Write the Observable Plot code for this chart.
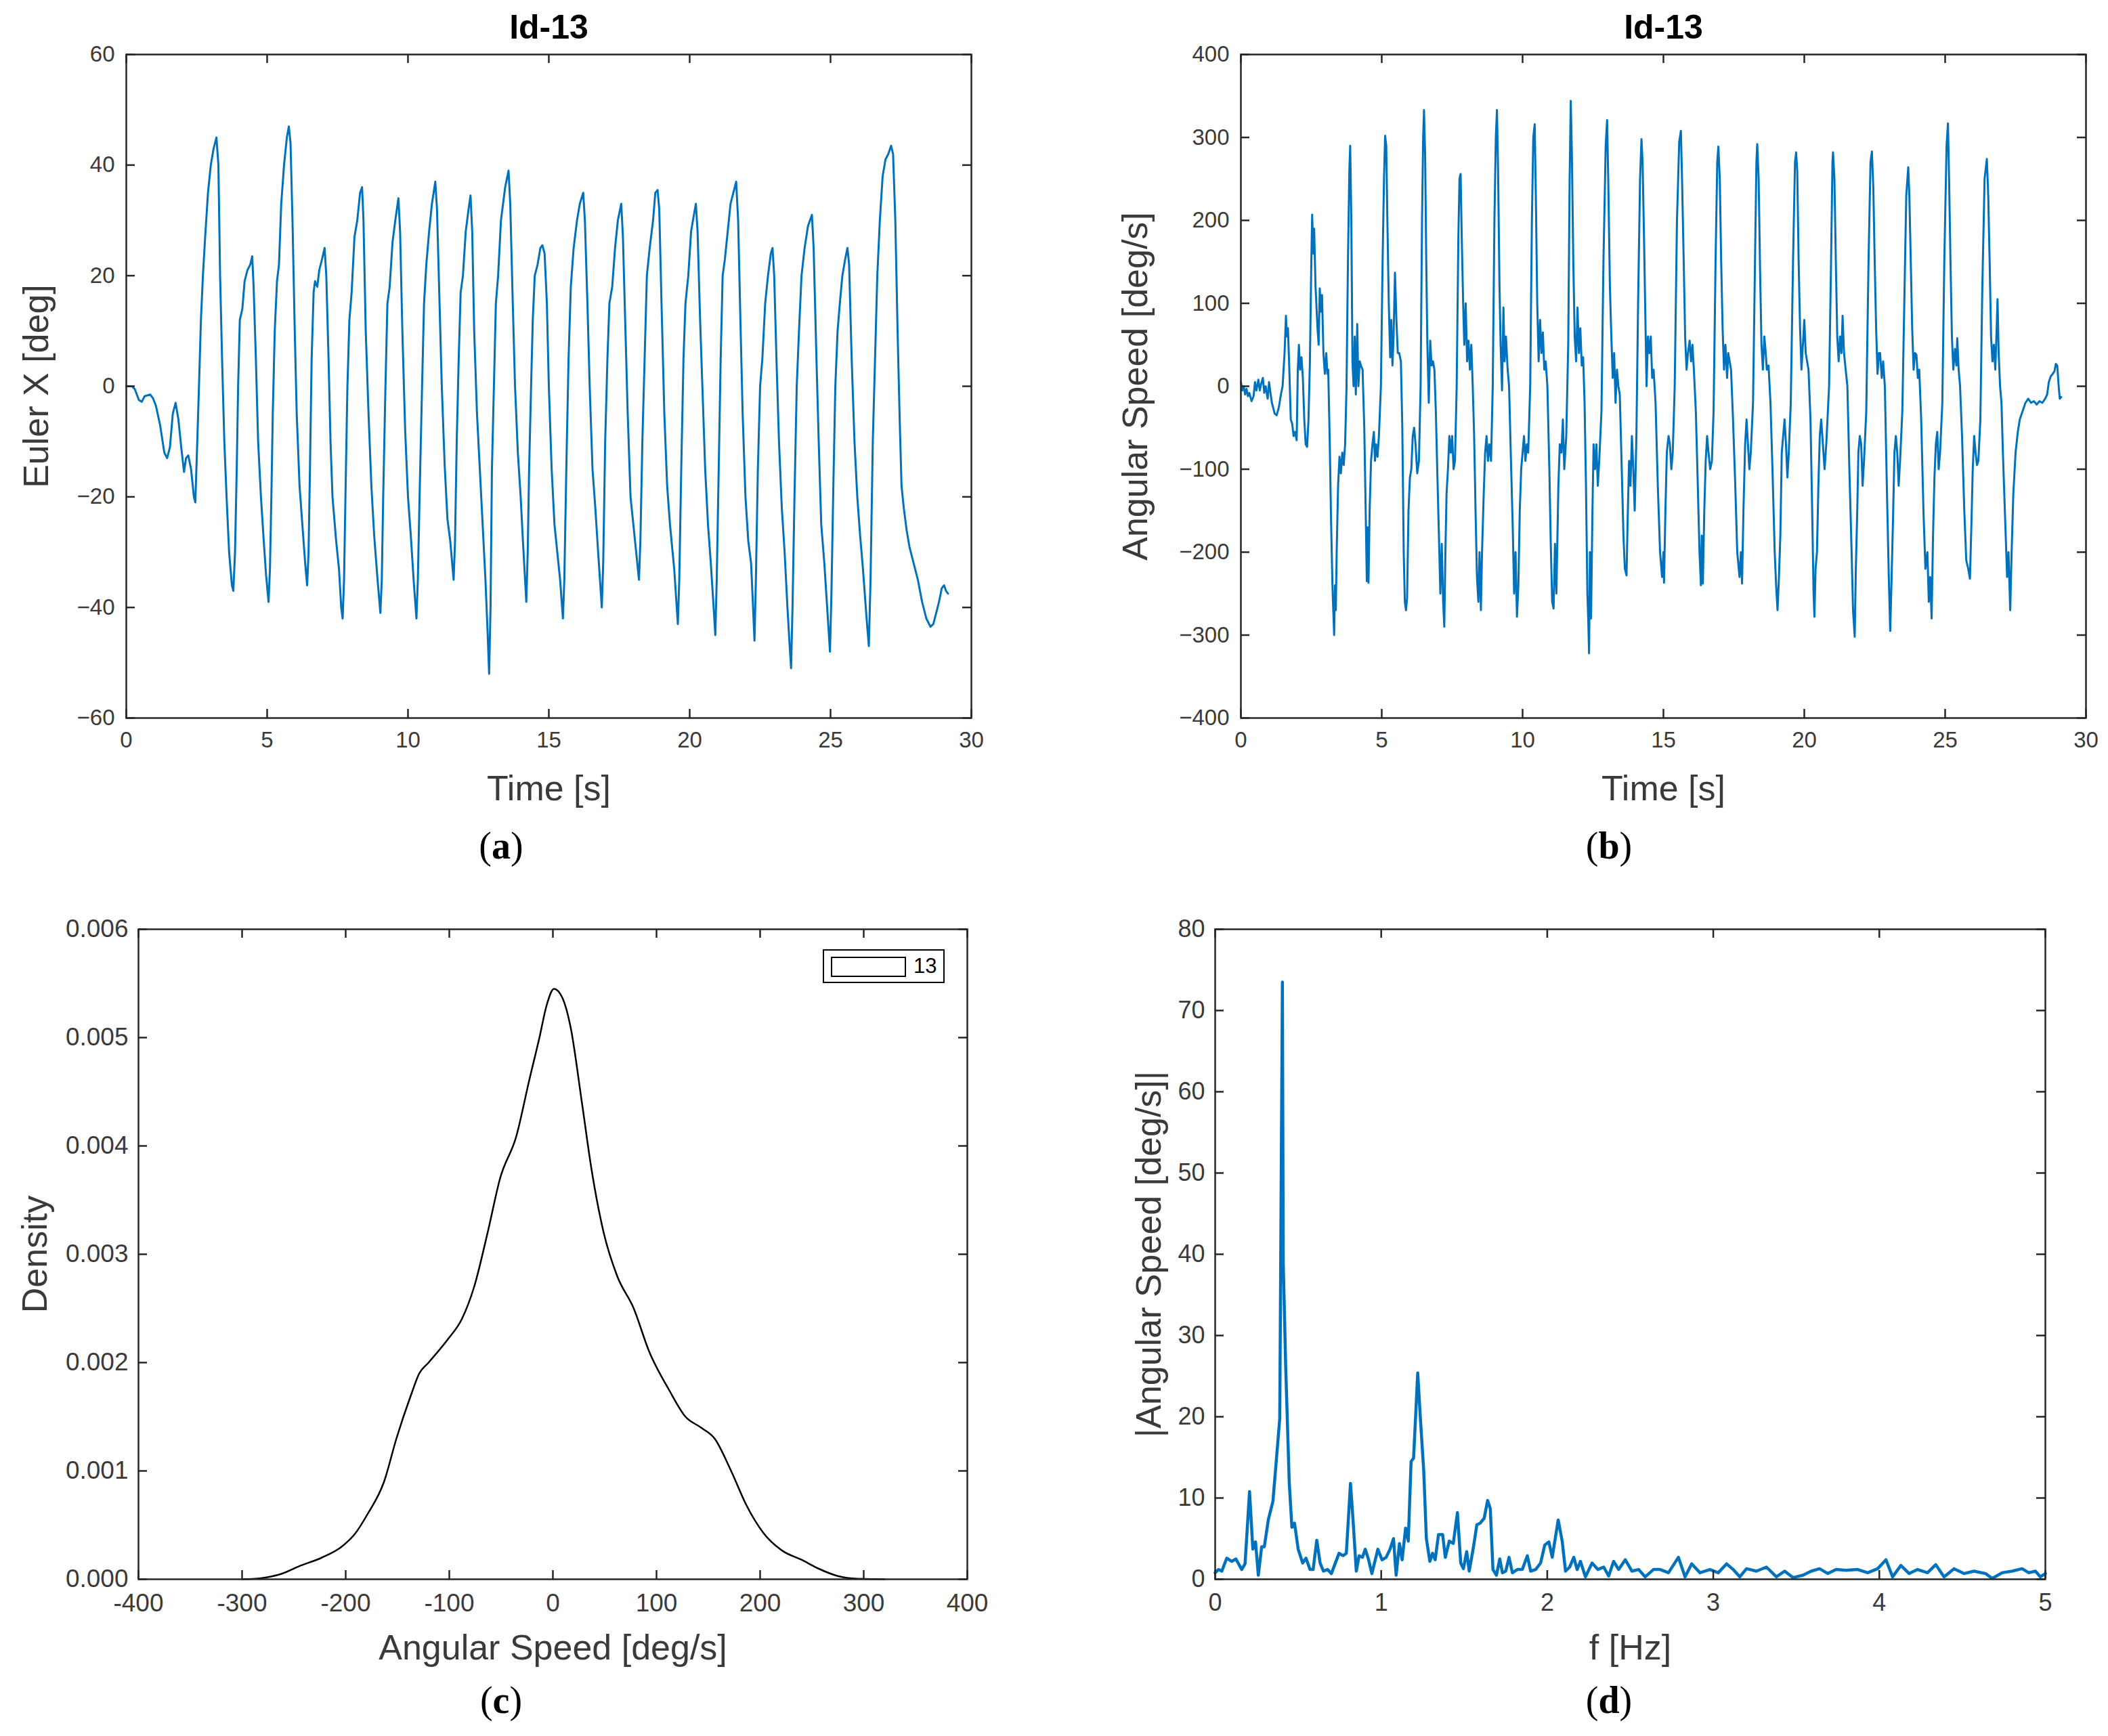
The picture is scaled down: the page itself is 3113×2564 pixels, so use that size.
<!DOCTYPE html>
<html><head><meta charset="utf-8">
<script src="https://cdn.jsdelivr.net/npm/d3@7"></script>
<script src="https://cdn.jsdelivr.net/npm/@observablehq/plot@0.6"></script>
<style>
html,body{margin:0;padding:0;background:#fff;}
#page{position:relative;width:3113px;height:2564px;background:#fff;font-family:"Liberation Sans",Arial,sans-serif;}
.panel{position:absolute;}
.cap{position:absolute;font-family:"Liberation Serif","Times New Roman",serif;font-size:56px;color:#000;transform:translate(-50%,-50%);white-space:nowrap;}
.leg{position:absolute;left:1215px;top:1402px;width:180px;height:50px;border:2.5px solid #000;background:#fff;box-sizing:border-box;}
.legsw{position:absolute;left:1227px;top:1413px;width:111px;height:30px;border:2px solid #000;box-sizing:border-box;}
.legtx{position:absolute;left:1349px;top:1409px;font-size:31px;color:#000;font-family:"Liberation Sans",Arial,sans-serif;}
</style></head><body><div id="page"></div>
<script>
// ---------- Panel (a): Euler X [deg] vs time ----------
const timeA = [0,0.2,0.3,0.45,0.55,0.65,0.85,0.95,1.05,1.2,1.35,1.45,1.55,1.65,1.75,1.85,1.95,2.05,2.12,2.2,2.3,2.4,2.45,2.52,2.58,2.65,2.72,2.8,2.9,3.0,3.1,3.2,3.27,3.33,3.4,3.48,3.56,3.65,3.75,3.8,3.86,3.92,3.97,4.03,4.12,4.2,4.3,4.4,4.47,4.52,4.6,4.68,4.78,4.88,4.96,5.05,5.1,5.15,5.2,5.27,5.35,5.42,5.5,5.6,5.7,5.77,5.83,5.9,5.98,6.05,6.15,6.25,6.35,6.42,6.47,6.52,6.58,6.65,6.7,6.78,6.85,6.95,7.04,7.1,7.18,7.25,7.32,7.45,7.55,7.63,7.68,7.73,7.78,7.85,7.92,8.0,8.1,8.2,8.3,8.37,8.42,8.5,8.6,8.7,8.8,8.92,9.02,9.07,9.12,9.2,9.27,9.35,9.45,9.55,9.66,9.72,9.8,9.9,10.0,10.1,10.2,10.3,10.35,10.42,10.5,10.57,10.65,10.75,10.85,10.97,11.03,11.12,11.2,11.3,11.4,11.5,11.62,11.67,11.73,11.8,11.87,11.95,12.05,12.15,12.22,12.28,12.35,12.45,12.55,12.65,12.75,12.83,12.88,12.93,12.98,13.05,13.12,13.2,13.3,13.45,13.57,13.63,13.72,13.8,13.9,14.0,14.08,14.2,14.25,14.3,14.37,14.43,14.5,14.6,14.7,14.77,14.85,14.93,15.0,15.1,15.2,15.3,15.4,15.5,15.55,15.62,15.7,15.78,15.88,16.0,16.1,16.22,16.28,16.37,16.45,16.55,16.65,16.75,16.88,16.93,17.0,17.08,17.15,17.25,17.35,17.45,17.57,17.63,17.72,17.8,17.9,18.0,18.1,18.2,18.25,18.32,18.4,18.48,18.58,18.7,18.78,18.86,18.92,19.0,19.1,19.2,19.3,19.45,19.58,19.63,19.7,19.78,19.85,19.95,20.05,20.15,20.22,20.28,20.37,20.45,20.55,20.65,20.75,20.85,20.91,20.96,21.03,21.1,21.17,21.25,21.35,21.45,21.55,21.65,21.72,21.8,21.88,21.98,22.08,22.18,22.25,22.3,22.35,22.42,22.5,22.58,22.68,22.78,22.88,22.94,23.0,23.08,23.17,23.27,23.37,23.47,23.55,23.6,23.65,23.72,23.8,23.88,23.97,24.08,24.2,24.34,24.4,24.5,24.58,24.67,24.78,24.88,24.98,25.03,25.1,25.17,25.25,25.33,25.42,25.52,25.6,25.66,25.75,25.85,25.95,26.05,26.15,26.28,26.36,26.42,26.5,26.58,26.66,26.75,26.85,26.95,27.05,27.15,27.22,27.3,27.38,27.45,27.52,27.6,27.7,27.8,27.95,28.1,28.25,28.4,28.55,28.65,28.75,28.85,28.95,29.03,29.1,29.17];
const eulerX = [0,0,-0.5,-2.5,-2.8,-1.8,-1.5,-2.2,-3.5,-7,-12,-13,-11,-5,-3,-6,-11,-15.5,-13,-12.5,-15,-20,-21,-10,0,12,20,27,35,40,43,45,40,20,5,-10,-20,-30,-36,-37,-30,-15,0,12,14,19,21,22,23.5,18,5,-10,-20,-28,-34,-39,-33,-20,-5,10,19,22,33,40,45,47,44,30,10,-5,-18,-25,-32,-36,-30,-15,5,17,19,18,21,23,25,20,5,-10,-20,-28,-33,-40,-42,-35,-20,0,12,17,27,30,35,36,30,10,-5,-18,-27,-35,-41,-35,-20,0,15,18,26,30,34,28,10,-8,-20,-27,-35,-42,-35,-18,0,15,22,28,33,37,32,15,0,-14,-24,-28,-35,-28,-10,5,17,20,28,32,34.5,28,10,-5,-15,-25,-35,-45,-52,-40,-15,0,15,20,30,36,39,33,15,0,-12,-20,-28,-39,-30,-15,0,12,20,22,25,25.5,24,15,0,-15,-25,-30,-35,-42,-35,-15,5,18,25,30,33,35,30,15,0,-15,-22,-30,-40,-32,-10,5,15,18,25,30,33,27,10,-5,-20,-25,-30,-35,-28,-10,5,20,25,30,35,35.5,32,15,-5,-18,-25,-33,-43,-35,-15,5,15,20,28,31,33,28,12,0,-15,-25,-32,-40,-45,-35,-15,5,20,23,28,33,35,37,30,12,-5,-20,-28,-32,-40,-46,-35,-15,0,5,15,20,24,25,20,5,-10,-22,-30,-40,-47,-51,-40,-20,0,10,20,25,29,31,25,5,-10,-25,-32,-40,-48,-38,-18,0,10,15,20,23,25,22,5,-10,-20,-27,-33,-42,-47,-35,-10,5,20,30,38,41,42,43.5,42,30,10,-5,-18,-22,-26,-29,-32,-35,-39,-42,-43.5,-43,-41,-39,-36.5,-36,-37,-37.5];

// ---------- Panel (b): angular speed [deg/s] vs time ----------
const timeB = [0,0.05,0.1,0.15,0.2,0.25,0.3,0.38,0.45,0.5,0.55,0.62,0.67,0.72,0.78,0.83,0.88,0.95,1.0,1.05,1.1,1.2,1.27,1.35,1.42,1.48,1.55,1.6,1.63,1.67,1.72,1.77,1.82,1.87,1.92,1.98,2.02,2.06,2.1,2.15,2.2,2.25,2.3,2.35,2.4,2.45,2.5,2.53,2.57,2.6,2.65,2.72,2.76,2.8,2.84,2.88,2.93,2.98,3.03,3.07,3.1,3.15,3.2,3.25,3.28,3.31,3.34,3.37,3.4,3.45,3.5,3.55,3.6,3.65,3.7,3.75,3.8,3.85,3.88,3.92,3.96,4.0,4.04,4.08,4.13,4.17,4.22,4.26,4.32,4.38,4.43,4.47,4.5,4.53,4.57,4.62,4.67,4.72,4.76,4.8,4.85,4.9,4.97,5.03,5.08,5.12,5.16,5.2,5.25,5.3,5.34,5.38,5.42,5.47,5.52,5.57,5.62,5.68,5.73,5.78,5.82,5.86,5.9,5.95,6.0,6.05,6.1,6.15,6.2,6.26,6.32,6.38,6.43,6.47,6.5,6.54,6.58,6.62,6.67,6.72,6.77,6.82,6.87,6.92,6.97,7.03,7.08,7.13,7.18,7.22,7.26,7.3,7.35,7.4,7.45,7.5,7.55,7.6,7.66,7.72,7.76,7.8,7.84,7.89,7.93,7.98,8.03,8.08,8.13,8.18,8.23,8.28,8.33,8.38,8.43,8.47,8.52,8.56,8.62,8.67,8.72,8.77,8.82,8.88,8.94,9.0,9.05,9.09,9.13,9.18,9.22,9.27,9.32,9.36,9.41,9.47,9.52,9.58,9.65,9.7,9.75,9.8,9.85,9.9,9.95,10.0,10.05,10.1,10.15,10.2,10.27,10.33,10.38,10.43,10.47,10.52,10.57,10.62,10.67,10.72,10.77,10.82,10.88,10.95,11.0,11.05,11.1,11.15,11.2,11.27,11.32,11.38,11.43,11.48,11.55,11.62,11.67,11.71,11.75,11.8,11.85,11.9,11.95,12.0,12.05,12.1,12.15,12.2,12.25,12.3,12.33,12.36,12.39,12.43,12.48,12.52,12.57,12.62,12.67,12.72,12.8,12.87,12.95,13.0,13.04,13.1,13.15,13.2,13.25,13.3,13.35,13.4,13.45,13.52,13.58,13.63,13.69,13.73,13.78,13.83,13.88,13.93,13.98,14.04,14.1,14.17,14.22,14.26,14.31,14.36,14.4,14.45,14.5,14.55,14.6,14.65,14.72,14.8,14.88,14.95,15.0,15.02,15.07,15.12,15.18,15.23,15.28,15.33,15.4,15.48,15.56,15.62,15.66,15.72,15.77,15.82,15.87,15.93,15.98,16.03,16.08,16.15,16.22,16.28,16.33,16.36,16.4,16.45,16.5,16.55,16.6,16.66,16.72,16.78,16.85,16.91,16.95,17.0,17.05,17.1,17.15,17.2,17.26,17.3,17.35,17.4,17.47,17.55,17.62,17.7,17.75,17.79,17.84,17.9,17.95,18.0,18.05,18.1,18.18,18.25,18.3,18.33,18.38,18.43,18.48,18.53,18.58,18.62,18.67,18.73,18.8,18.87,18.95,19.0,19.05,19.1,19.15,19.2,19.25,19.3,19.35,19.4,19.45,19.52,19.6,19.67,19.71,19.75,19.8,19.85,19.9,19.95,20.0,20.05,20.1,20.15,20.22,20.28,20.33,20.36,20.4,20.45,20.5,20.55,20.6,20.66,20.72,20.78,20.88,20.95,21.0,21.02,21.07,21.12,21.17,21.22,21.27,21.32,21.36,21.41,21.47,21.53,21.6,21.68,21.73,21.79,21.83,21.88,21.92,21.97,22.02,22.07,22.12,22.2,22.28,22.35,22.4,22.45,22.5,22.55,22.6,22.65,22.69,22.75,22.8,22.86,22.93,23.0,23.05,23.1,23.15,23.2,23.25,23.3,23.35,23.4,23.48,23.55,23.62,23.69,23.73,23.78,23.83,23.88,23.93,23.98,24.03,24.08,24.15,24.23,24.3,24.37,24.42,24.47,24.52,24.57,24.62,24.67,24.72,24.77,24.82,24.9,24.97,25.05,25.1,25.14,25.19,25.24,25.29,25.35,25.4,25.43,25.48,25.53,25.6,25.68,25.75,25.82,25.88,25.93,25.98,26.03,26.08,26.13,26.18,26.25,26.32,26.4,26.48,26.53,26.58,26.63,26.68,26.73,26.78,26.82,26.86,26.9,26.95,27.0,27.05,27.12,27.2,27.25,27.31,27.36,27.42,27.5,27.58,27.65,27.75,27.85,27.95,28.05,28.15,28.25,28.35,28.45,28.55,28.62,28.68,28.75,28.82,28.88,28.93,28.98,29.03,29.07,29.12];
const angSpeed = [5,-5,0,-10,-3,-12,-8,-18,-12,5,-5,8,-5,3,10,-8,0,-15,5,-8,-20,-33,-35,-25,-10,0,40,85,60,70,20,-40,-45,-60,-55,-65,20,50,20,35,10,-40,-70,-73,-40,30,150,207,160,190,120,70,50,118,90,110,40,15,40,15,20,-60,-160,-240,-270,-300,-240,-270,-200,-120,-85,-105,-80,-95,-70,0,150,260,290,200,30,0,60,-10,75,0,30,25,20,-50,-150,-235,-170,-237,-150,-90,-70,-55,-90,-70,-85,-60,0,150,250,302,290,200,100,35,80,25,60,137,80,40,40,30,-50,-200,-260,-270,-255,-150,-110,-100,-60,-50,-70,-105,-90,0,200,300,333,280,150,50,-20,55,25,30,20,-30,-100,-180,-250,-190,-260,-290,-200,-130,-100,-60,-80,-60,-100,-90,0,180,250,256,180,100,50,100,30,55,20,50,0,-60,-150,-230,-260,-200,-270,-200,-130,-80,-60,-90,-70,-90,0,200,300,333,260,120,50,-5,95,30,60,20,0,-80,-170,-250,-200,-278,-240,-150,-100,-80,-60,-90,-70,-80,0,200,300,316,230,100,30,80,40,65,20,30,0,-100,-190,-260,-268,-190,-250,-120,-70,-80,-40,-100,-60,50,250,344,280,150,60,30,95,40,70,25,35,-20,-120,-250,-280,-322,-200,-280,-150,-70,-100,-70,-120,-90,-30,150,290,321,250,120,60,10,40,-20,20,0,-10,-100,-180,-220,-228,-160,-90,-120,-60,-100,-150,-60,100,250,298,270,180,80,0,60,40,60,10,20,-20,-120,-200,-230,-200,-237,-150,-80,-60,-70,-100,-80,0,200,295,308,250,150,60,20,40,55,30,50,20,-30,-120,-200,-240,-180,-238,-150,-90,-60,-80,-100,-90,-30,150,270,289,250,150,70,20,50,10,40,30,20,-40,-120,-200,-230,-200,-238,-150,-70,-40,-70,-100,-80,-20,150,270,292,250,140,50,20,60,45,20,25,-20,-100,-200,-240,-270,-230,-180,-80,-60,-40,-70,-110,-80,-20,150,270,282,260,150,70,20,50,80,40,30,20,-40,-150,-250,-278,-220,-200,-120,-60,-40,-70,-100,-70,0,150,270,282,250,150,60,30,60,40,85,40,20,0,-100,-200,-270,-302,-220,-150,-80,-60,-70,-120,-90,-30,150,270,283,240,150,70,15,40,40,10,30,0,-120,-230,-295,-230,-160,-80,-60,-80,-120,-90,-30,100,230,264,230,150,70,20,40,38,10,20,-40,-150,-220,-200,-260,-230,-280,-180,-110,-70,-55,-100,-80,-20,150,290,317,250,150,60,20,45,25,58,20,0,-60,-150,-210,-220,-232,-170,-100,-60,-80,-95,-90,-40,120,250,274,230,150,60,30,50,20,60,105,40,0,-20,-80,-150,-230,-200,-270,-200,-130,-80,-55,-40,-30,-20,-15,-20,-18,-22,-18,-20,-15,-10,5,12,15,18,27,25,0,-15,-13];

// ---------- Panel (c): density of angular speed ----------
const kdeSpeed = [-300,-282,-262,-245,-223,-204,-191,-179,-163,-151,-137,-129,-120,-101,-88,-76,-63,-51,-35,-23,-13,-6,1,9,17,28,37,49,62,78,93,112,128,143,156,172,187,203,222,240,256,275,294,320];
const kdeDensity = [0,0.00001,0.00005,0.00012,0.0002,0.0003,0.00042,0.0006,0.0009,0.0013,0.0017,0.0019,0.002,0.00222,0.0024,0.0027,0.0032,0.0037,0.0041,0.0046,0.005,0.0053,0.00545,0.00537,0.0051,0.0044,0.0038,0.0032,0.0028,0.0025,0.0021,0.00175,0.0015,0.0014,0.0013,0.001,0.00068,0.00043,0.00026,0.00018,0.0001,0.00003,0.000005,0];

// ---------- Panel (d): spectrum ----------
const freqHz = [0,0.02,0.04,0.07,0.1,0.125,0.16,0.18,0.207,0.227,0.243,0.26,0.28,0.296,0.32,0.348,0.369,0.389,0.405,0.41,0.425,0.446,0.462,0.478,0.5,0.527,0.547,0.571,0.59,0.612,0.632,0.652,0.677,0.7,0.746,0.77,0.79,0.815,0.83,0.85,0.867,0.887,0.904,0.924,0.944,0.98,1.005,1.03,1.053,1.074,1.09,1.11,1.126,1.147,1.163,1.18,1.195,1.22,1.236,1.256,1.272,1.293,1.309,1.325,1.345,1.37,1.386,1.41,1.434,1.459,1.479,1.495,1.515,1.53,1.556,1.576,1.596,1.62,1.641,1.657,1.673,1.694,1.714,1.73,1.75,1.77,1.79,1.82,1.85,1.88,1.9,1.93,1.96,1.985,2.01,2.03,2.066,2.09,2.11,2.135,2.16,2.18,2.2,2.23,2.27,2.305,2.34,2.37,2.4,2.43,2.47,2.51,2.55,2.59,2.64,2.68,2.73,2.79,2.83,2.87,2.92,2.98,3.03,3.08,3.12,3.16,3.2,3.26,3.32,3.38,3.43,3.48,3.54,3.59,3.64,3.69,3.74,3.8,3.87,3.93,3.99,4.04,4.08,4.13,4.18,4.23,4.29,4.34,4.39,4.45,4.51,4.57,4.64,4.68,4.74,4.8,4.86,4.9,4.94,4.97,5.0];
const ampSpeed = [0.8,1.2,1.0,2.6,2.2,2.5,1.2,1.9,10.8,3.7,4.6,0.5,4,4,7.3,9.6,14.8,19.8,73.5,39,26,12,6.4,6.9,3.7,2,2.6,1.2,1.2,4.8,2,1,1.2,0.7,3.2,2.9,3.2,11.8,7.4,1,2.9,2.7,3.7,2.4,0.7,3.7,2.4,2.7,3.7,5.0,0.5,4.4,2.4,6.3,4.7,14.5,14.9,25.4,19.8,13.4,5,2.2,3.2,2.4,5.5,5.5,2.7,4.7,4.4,8.2,2,1.3,3.4,1,4,6.7,6.9,7.5,9.7,8.7,1.2,0.5,2.5,0.8,1,2.7,0.8,1.2,1.2,2.9,1,1.2,2,4.2,4.6,2.7,7.3,4.7,1,1.5,2.7,1.2,2.2,0.3,2,1.2,1.5,0.4,2.2,1.2,2.4,1,1.2,0.3,1.2,1.2,0.8,2.7,0.3,1.9,0.8,1.2,0.8,1.9,1.2,0.3,1.3,1,1.5,0.3,1,0.2,0.5,1,1.3,0.7,1.2,1.1,1.2,0.8,1.3,2.4,0.3,1.7,0.7,1.2,0.8,1.8,0.3,1.3,0.7,1,0.7,0.1,0.8,1,1.3,0.8,1,0.3,0.7];

// ---------- Tick values ----------
const ticksTime = [0,5,10,15,20,25,30];
const ticksEuler = [-60,-40,-20,0,20,40,60];
const ticksSpeed = [-400,-300,-200,-100,0,100,200,300,400];
const ticksDensity = [0,0.001,0.002,0.003,0.004,0.005,0.006];
const ticksFreq = [0,1,2,3,4,5];
const ticksAmp = [0,10,20,30,40,50,60,70,80];

const INK = "#262626";
const LABEL = "#3a3a3a";
const BLUE = "#0072BD";
const page = document.getElementById("page");

function panel(o) {
  const innerW = o.width - o.ml - o.mr, innerH = o.height - o.mt - o.mb, tl = 13;
  const marks = [
    Plot.line(o.data, {x: "x", y: "y", stroke: o.stroke, strokeWidth: o.sw, strokeLinejoin: "round", curve: o.curve || "linear"}),
    Plot.frame({stroke: INK, strokeWidth: 2.5}),
    Plot.tickX(o.xTicks, {x: d => d, insetTop: innerH - tl, stroke: INK, strokeWidth: 2.5}),
    Plot.tickX(o.xTicks, {x: d => d, insetBottom: innerH - tl, stroke: INK, strokeWidth: 2.5}),
    Plot.tickY(o.yTicks, {y: d => d, insetRight: innerW - tl, stroke: INK, strokeWidth: 2.5}),
    Plot.tickY(o.yTicks, {y: d => d, insetLeft: innerW - tl, stroke: INK, strokeWidth: 2.5}),
    Plot.axisX({anchor: "bottom", ticks: o.xTicks, tickSize: 0, tickPadding: o.xPad, tickFormat: o.xFmt, fontSize: o.tickFont, label: null, color: LABEL}),
    Plot.axisY({anchor: "left", ticks: o.yTicks, tickSize: 0, tickPadding: o.yPad, tickFormat: o.yFmt, fontSize: o.tickFont, label: null, color: LABEL}),
    Plot.text([o.xLabel], {text: d => d, frameAnchor: "bottom", lineAnchor: "middle", textAnchor: "middle", dy: o.xLabelDy, fontSize: 52, fill: LABEL}),
    Plot.text([o.yLabel], {text: d => d, frameAnchor: "left", lineAnchor: "middle", textAnchor: "middle", dx: o.yLabelDx, rotate: -90, fontSize: 52, fill: LABEL})
  ];
  if (o.title) marks.push(Plot.text([o.title], {text: d => d, frameAnchor: "top", lineAnchor: "middle", textAnchor: "middle", dy: -40, fontSize: 50, fontWeight: "bold", fill: "#000"}));
  const chart = Plot.plot({
    width: o.width, height: o.height,
    marginLeft: o.ml, marginRight: o.mr, marginTop: o.mt, marginBottom: o.mb,
    x: {domain: o.xDomain}, y: {domain: o.yDomain},
    style: {fontFamily: "'Liberation Sans', Arial, sans-serif", background: "white", color: INK, overflow: "visible"},
    marks
  });
  const div = document.createElement("div");
  div.className = "panel";
  div.style.left = o.left + "px";
  div.style.top = o.top + "px";
  div.appendChild(chart);
  page.appendChild(div);
}

const minusFmt = d => (d < 0 ? "\u2212" + Math.abs(d) : String(d));

panel({left: 0, top: 0, width: 1520, height: 1200, ml: 186, mr: 86, mt: 80, mb: 140,
  xDomain: [0, 30], yDomain: [-60, 60], xTicks: ticksTime, yTicks: ticksEuler,
  xFmt: String, yFmt: minusFmt, tickFont: 33, xPad: 20, yPad: 17,
  data: timeA.map((t, i) => ({x: t, y: eulerX[i]})), stroke: BLUE, sw: 3,
  title: "Id-13", xLabel: "Time [s]", yLabel: "Euler X [deg]", xLabelDy: 105, yLabelDx: -132});

panel({left: 1560, top: 0, width: 1553, height: 1200, ml: 272, mr: 33, mt: 80, mb: 140,
  xDomain: [0, 30], yDomain: [-400, 400], xTicks: ticksTime, yTicks: ticksSpeed,
  xFmt: String, yFmt: minusFmt, tickFont: 33, xPad: 20, yPad: 17,
  data: timeB.map((t, i) => ({x: t, y: angSpeed[i]})), stroke: BLUE, sw: 3,
  title: "Id-13", xLabel: "Time [s]", yLabel: "Angular Speed [deg/s]", xLabelDy: 105, yLabelDx: -155});

panel({left: 0, top: 1300, width: 1520, height: 1200, ml: 204, mr: 92, mt: 72, mb: 168,
  xDomain: [-400, 400], yDomain: [0, 0.006], xTicks: ticksSpeed, yTicks: ticksDensity,
  xFmt: d => String(d), yFmt: d3.format(".3f"), tickFont: 37, xPad: 21, yPad: 15,
  data: kdeSpeed.map((s, i) => ({x: s, y: kdeDensity[i]})), stroke: "#000", sw: 2.5, curve: "monotone-x",
  xLabel: "Angular Speed [deg/s]", yLabel: "Density", xLabelDy: 102, yLabelDx: -152});

panel({left: 1560, top: 1300, width: 1553, height: 1200, ml: 234, mr: 93, mt: 72, mb: 168,
  xDomain: [0, 5], yDomain: [0, 80], xTicks: ticksFreq, yTicks: ticksAmp,
  xFmt: String, yFmt: String, tickFont: 36, xPad: 21, yPad: 15,
  data: freqHz.map((f, i) => ({x: f, y: ampSpeed[i]})), stroke: BLUE, sw: 4.5,
  xLabel: "f [Hz]", yLabel: "|Angular Speed [deg/s]|", xLabelDy: 102, yLabelDx: -97});

// legend of panel (c) and panel captions
page.insertAdjacentHTML("beforeend",
  '<div class="leg"></div><div class="legsw"></div><div class="legtx">13</div>' +
  '<div class="cap" style="left:740px;top:1249px">(<b>a</b>)</div>' +
  '<div class="cap" style="left:2376px;top:1249px">(<b>b</b>)</div>' +
  '<div class="cap" style="left:740px;top:2511px">(<b>c</b>)</div>' +
  '<div class="cap" style="left:2376px;top:2511px">(<b>d</b>)</div>');
</script></body></html>
